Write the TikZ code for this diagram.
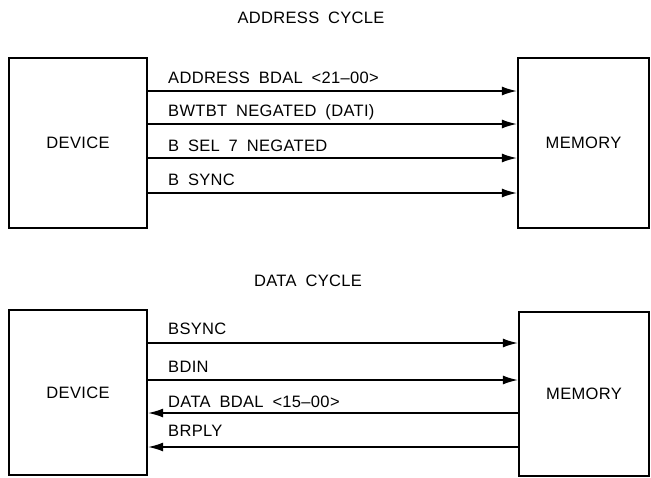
\documentclass[tikz,border=0pt]{standalone}
\usepackage{fontspec}
\setmainfont{Liberation Sans}[WordSpace=1.8,LetterSpace=2]
\usetikzlibrary{arrows.meta}
\tikzset{
  unit/.style={draw,line width=2.4pt,inner sep=0pt},
  sig/.style={line width=1.3pt,-{Latex[length=15pt,width=9pt]}},
  lbl/.style={anchor=base west,inner sep=0pt}
}
\begin{document}
\begin{tikzpicture}[x=1pt,y=-1pt,font=\fontsize{16.5}{20}\selectfont]
\useasboundingbox (0,0) rectangle (651,477);
% address cycle
\node (title1) at (311,18) {ADDRESS CYCLE};
\node[unit,minimum width=138pt,minimum height=170pt] at (78,143) (dev1) {DEVICE};
\node[unit,minimum width=131pt,minimum height=170pt] at (583.5,143) (mem1) {MEMORY};
\node[lbl] at (168,83) (adr) {ADDRESS BDAL <21--00>};
\node[lbl] at (168,116.5) (wtbt) {BWTBT NEGATED (DATI)};
\node[lbl] at (168,151) (sel) {B SEL 7 NEGATED};
\node[lbl] at (168,185) (sync) {B SYNC};
\draw[sig] (dev1.east |- 0,91) -- (mem1.west |- 0,91);
\draw[sig] (dev1.east |- 0,124) -- (mem1.west |- 0,124);
\draw[sig] (dev1.east |- 0,158) -- (mem1.west |- 0,158);
\draw[sig] (dev1.east |- 0,193) -- (mem1.west |- 0,193);
% data cycle
\node (title2) at (308,281) {DATA CYCLE};
\node[unit,minimum width=138pt,minimum height=165pt] at (78,392.5) (dev2) {DEVICE};
\node[unit,minimum width=130pt,minimum height=164pt] at (584,394) (mem2) {MEMORY};
\node[lbl] at (168,334) (bsync) {BSYNC};
\node[lbl] at (168,372) (bdin) {BDIN};
\node[lbl] at (168,407) (dal) {DATA BDAL <15--00>};
\node[lbl] at (168,436) (rply) {BRPLY};
\draw[sig] (dev2.east |- 0,343) -- (mem2.west |- 0,343);
\draw[sig] (dev2.east |- 0,380) -- (mem2.west |- 0,380);
\draw[sig] (mem2.west |- 0,413) -- (dev2.east |- 0,413);
\draw[sig] (mem2.west |- 0,447) -- (dev2.east |- 0,447);
\end{tikzpicture}
\end{document}
